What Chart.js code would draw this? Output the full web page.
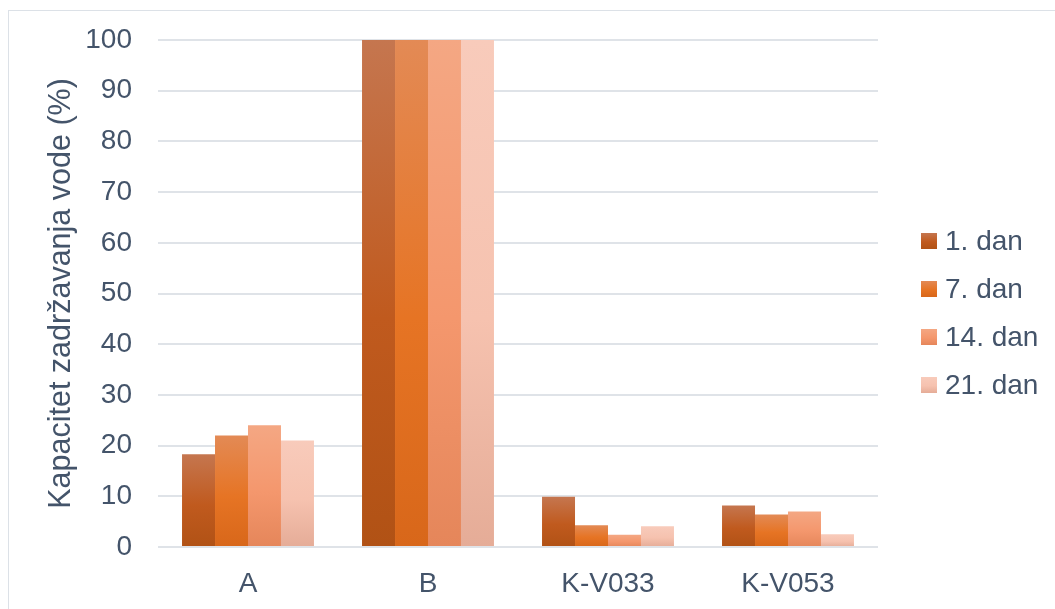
<!DOCTYPE html>
<html lang="hr">
<head>
  <meta charset="utf-8" />
  <title>Kapacitet zadržavanja vode</title>
  <script src="https://cdn.jsdelivr.net/npm/chart.js"></script>
  <style>
    body { margin: 0; background: #fff; overflow: hidden; font-family: "Liberation Sans", Arial, sans-serif; }
    #frame { position: absolute; left: 8px; top: 10px; width: 1200px; height: 800px; border: 1px solid #DCE1E7; }
    #chart { position: absolute; left: 0; top: 0; }
    #legend { position: absolute; left: 921px; top: 217px; color: #44546A; font-size: 28px; }
    .item { display: flex; align-items: center; height: 48px; }
    .box { width: 16px; height: 16px; margin-right: 8px; }
  </style>
</head>
<body>
  <div id="frame"></div>
  <canvas id="chart" width="1055" height="609"></canvas>
  <div id="legend"></div>

  <script>
    const categories = ['A', 'B', 'K-V033', 'K-V053'];
    const seriesNames = ['1. dan', '7. dan', '14. dan', '21. dan'];
    const dan1  = [18.3, 100, 9.9, 8.2];
    const dan7  = [22.0, 100, 4.3, 6.4];
    const dan14 = [24.0, 100, 2.4, 7.0];
    const dan21 = [21.0, 100, 4.1, 2.5];
    const yTicks = [0, 10, 20, 30, 40, 50, 60, 70, 80, 90, 100];

    // top / middle / bottom colours of each bar gradient
    const shades = [
      ['#C5764F', '#C05A1E', '#B15215'],
      ['#E38A55', '#E67424', '#D8671A'],
      ['#F4A783', '#F4976D', '#E5865A'],
      ['#F8CBBB', '#F6C2AF', '#E5AC97']
    ];

    const textColor = '#44546A';
    const font = { family: '"Liberation Sans", Arial, sans-serif', size: 28 };

    function barFill(i) {
      return function(ctx) {
        const chart = ctx.chart;
        if (ctx.type !== 'data' || !chart.chartArea) return shades[i][1];
        const y = chart.scales.y;
        const top = y.getPixelForValue(ctx.raw);
        const bot = y.getPixelForValue(0);
        if (!isFinite(top) || bot - top < 1) return shades[i][1];
        const g = chart.ctx.createLinearGradient(0, top, 0, bot);
        g.addColorStop(0, shades[i][0]);
        g.addColorStop(0.55, shades[i][1]);
        g.addColorStop(1, shades[i][2]);
        return g;
      };
    }

    const values = [dan1, dan7, dan14, dan21];
    const datasets = seriesNames.map((name, i) => ({
      label: name,
      data: values[i],
      backgroundColor: barFill(i),
      borderWidth: 0,
      categoryPercentage: 0.733,
      barPercentage: 1.0
    }));

    new Chart(document.getElementById('chart'), {
      type: 'bar',
      data: { labels: categories, datasets: datasets },
      options: {
        responsive: false,
        animation: false,
        devicePixelRatio: 1,
        layout: { padding: { left: 0, right: 177, top: 40, bottom: 0 } },
        plugins: { legend: { display: false }, tooltip: { enabled: false } },
        scales: {
          x: {
            grid: { display: false },
            border: { display: false },
            ticks: { color: textColor, font: font, padding: 12, maxRotation: 0 },
            afterFit: s => { s.height = 62; }
          },
          y: {
            min: 0,
            max: 100,
            afterBuildTicks: s => { s.ticks = yTicks.map(v => ({ value: v })); },
            grid: { color: '#DFE3E8', lineWidth: 2, drawTicks: false },
            border: { display: false },
            ticks: { color: textColor, font: font, padding: 26 },
            title: {
              display: true,
              text: 'Kapacitet zadržavanja vode (%)',
              color: textColor,
              font: { family: font.family, size: 30.5 },
              padding: { top: 43, bottom: 0 }
            },
            afterFit: s => { s.width = 158; s.paddingTop = 0; s.paddingBottom = 0; }
          }
        }
      }
    });

    const legend = document.getElementById('legend');
    seriesNames.forEach((name, i) => {
      const item = document.createElement('div');
      item.className = 'item';
      const box = document.createElement('span');
      box.className = 'box';
      box.style.background = 'linear-gradient(' + shades[i][0] + ',' + shades[i][1] + ' 55%,' + shades[i][2] + ')';
      const label = document.createElement('span');
      label.textContent = name;
      item.appendChild(box);
      item.appendChild(label);
      legend.appendChild(item);
    });
  </script>
</body>
</html>
